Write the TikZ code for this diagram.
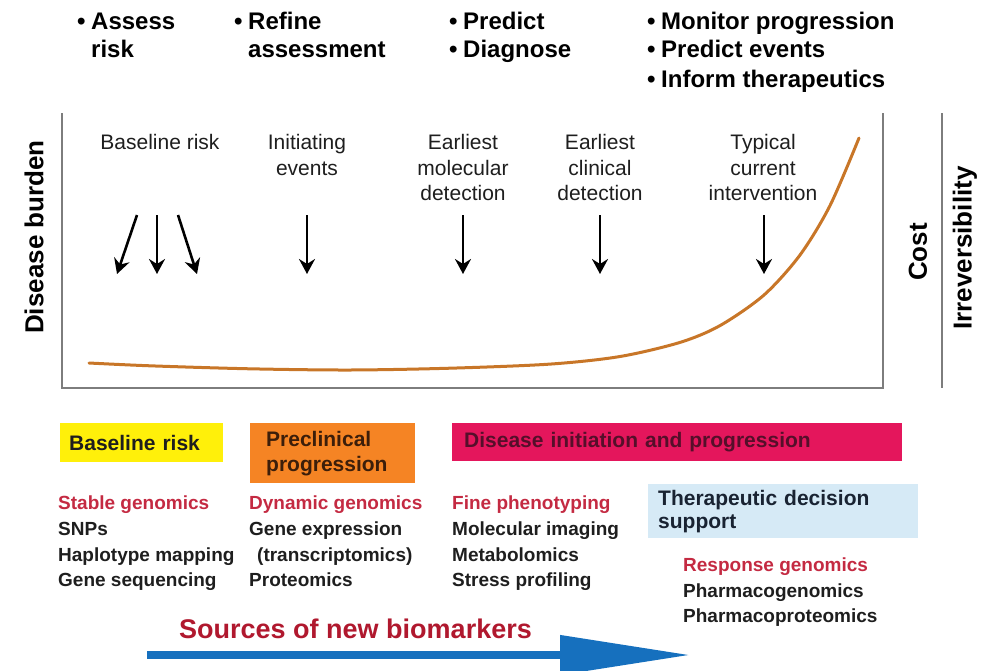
\documentclass[tikz,border=0pt]{standalone}
\usepackage{fontspec}
\setmainfont{Liberation Sans}
\usetikzlibrary{arrows.meta}

\definecolor{framegray}{RGB}{125,125,125}
\definecolor{burden}{RGB}{200,118,40}
\definecolor{boxyellow}{RGB}{255,240,10}
\definecolor{boxorange}{RGB}{245,132,36}
\definecolor{boxpink}{RGB}{228,22,92}
\definecolor{boxblue}{RGB}{214,234,246}
\definecolor{headred}{RGB}{196,42,66}
\definecolor{srcred}{RGB}{176,24,46}
\definecolor{srcblue}{RGB}{22,112,190}
\definecolor{ink}{RGB}{30,30,30}

\tikzset{
  phase/.style={anchor=base west, inner sep=0pt, text=black,
    font=\fontsize{24}{28}\selectfont\bfseries},
  event/.style={anchor=base, inner sep=0pt, text=ink,
    font=\fontsize{21}{25}\selectfont},
  evarrow/.style={line width=2.6pt, draw=black,
    -{Stealth[length=15pt,width=16pt,inset=5pt]}},
  axislabel/.style={rotate=90, inner sep=0pt, text=black,
    font=\fontsize{26}{30}\selectfont\bfseries},
  stagebox/.style={anchor=north west, inner ysep=0pt, align=left,
    font=\fontsize{21}{25}\selectfont\bfseries},
  srchead/.style={anchor=base west, inner sep=0pt, text=headred,
    font=\fontsize{19}{23}\selectfont\bfseries},
  srcitem/.style={anchor=base west, inner sep=0pt, text=ink,
    font=\fontsize{19}{23}\selectfont\bfseries},
}
\newcommand\bul{\makebox[14pt][l]{•}}

\begin{document}
\begin{tikzpicture}[x=1pt,y=-1pt]
\useasboundingbox (0,0) rectangle (983,670);

% goals of each stage
\node[phase] (g1a) at (77,29) {\bul Assess};
\node[phase] (g1b) at (91,57) {risk};
\node[phase] (g2a) at (234,29) {\bul Refine};
\node[phase] (g2b) at (248,57) {assessment};
\node[phase] (g3a) at (449,29) {\bul Predict};
\node[phase] (g3b) at (449,57) {\bul Diagnose};
\node[phase] (g4a) at (647,29) {\bul Monitor progression};
\node[phase] (g4b) at (647,57) {\bul Predict events};
\node[phase] (g4c) at (647,87) {\bul Inform therapeutics};

% plot frame
\draw[framegray, line width=2.4pt] (62,113) -- (62,388) -- (883,388) -- (883,113);
\draw[framegray, line width=2.4pt] (942,113) -- (942,388);

% axis labels
\node[axislabel] (yburden) at (34,237) {Disease burden};
\node[axislabel] (ycost) at (918,252) {Cost};
\node[axislabel] (yirrev) at (965,248) {Irreversibility};

% event labels
\node[event] (e1) at (160,149.5) {Baseline risk};
\node[event] (e2a) at (307,149.5) {Initiating};
\node[event] (e2b) at (307,175) {events};
\node[event] (e3a) at (463,149.5) {Earliest};
\node[event] (e3b) at (463,175) {molecular};
\node[event] (e3c) at (463,200.5) {detection};
\node[event] (e4a) at (600,149.5) {Earliest};
\node[event] (e4b) at (600,175) {clinical};
\node[event] (e4c) at (600,200.5) {detection};
\node[event] (e5a) at (763,149.5) {Typical};
\node[event] (e5b) at (763,175) {current};
\node[event] (e5c) at (763,200.5) {intervention};

% event arrows
\coordinate (a1s) at (137,215); \coordinate (a1e) at (117,274);
\coordinate (a2s) at (157,215); \coordinate (a2e) at (157,274);
\coordinate (a3s) at (178,215); \coordinate (a3e) at (197,274);
\coordinate (a4s) at (307,215); \coordinate (a4e) at (307,274);
\coordinate (a5s) at (463,215); \coordinate (a5e) at (463,274);
\coordinate (a6s) at (600,215); \coordinate (a6e) at (600,274);
\coordinate (a7s) at (764,215); \coordinate (a7e) at (764,274);
\foreach \i in {1,...,7} \draw[evarrow] (a\i s) -- (a\i e);

% disease burden curve: flat baseline, then exponential rise
\draw[burden, line width=3pt, line cap=round]
  plot[smooth, tension=0.5] coordinates {(89,363) (150,365.8) (250,368.8) (350,370)
    (450,368.2) (550,364.1) (620,356.5) (680,342.4) (720,325.6) (764,295)
    (800,255) (830,205.6) (859,138)};

% stage boxes
\node[stagebox, fill=boxyellow, text=ink, minimum width=163pt, minimum height=39pt,
  inner xsep=9pt, text width=145pt] (sb1) at (60,423) {Baseline risk};
\node[stagebox, fill=boxorange, text={rgb,255:red,60;green,30;blue,10},
  minimum width=165pt, minimum height=60pt, inner xsep=16pt, text width=133pt]
  (sb2) at (250,423) {Preclinical\\progression};
\node[stagebox, fill=boxpink, text={rgb,255:red,85;green,15;blue,42},
  minimum width=450pt, minimum height=38pt, inner xsep=12pt, text width=426pt]
  (sb3) at (452,423) {Disease initiation and progression};
\node[stagebox, fill=boxblue, text={rgb,255:red,25;green,35;blue,50},
  font=\fontsize{21}{23}\selectfont\bfseries,
  minimum width=270pt, minimum height=54pt, inner xsep=10pt, text width=250pt]
  (sb4) at (648,484) {Therapeutic decision\\support};

% biomarker sources
\node[srchead] (c1h) at (58,509) {Stable genomics};
\node[srcitem] (c1a) at (58,535) {SNPs};
\node[srcitem] (c1b) at (58,561) {Haplotype mapping};
\node[srcitem] (c1c) at (58,586) {Gene sequencing};

\node[srchead] (c2h) at (249,509) {Dynamic genomics};
\node[srcitem] (c2a) at (249,535) {Gene expression};
\node[srcitem] (c2b) at (257,561) {(transcriptomics)};
\node[srcitem] (c2c) at (249,586) {Proteomics};

\node[srchead] (c3h) at (452,509) {Fine phenotyping};
\node[srcitem] (c3a) at (452,535) {Molecular imaging};
\node[srcitem] (c3b) at (452,561) {Metabolomics};
\node[srcitem] (c3c) at (452,586) {Stress profiling};

\node[srchead] (c4h) at (683,571) {Response genomics};
\node[srcitem] (c4a) at (683,597) {Pharmacogenomics};
\node[srcitem] (c4b) at (683,622) {Pharmacoproteomics};

% sources arrow
\node[anchor=base west, inner sep=0pt, text=srcred,
  font=\fontsize{27}{30}\selectfont\bfseries] (srctitle) at (179,638) {Sources of new biomarkers};
\coordinate (srcL) at (147,655);
\coordinate (srcR) at (690,655);
\draw[srcblue, line width=7.5pt, -{Triangle[length=130pt,width=38pt]}] (srcL) -- (srcR);
\end{tikzpicture}
\end{document}
